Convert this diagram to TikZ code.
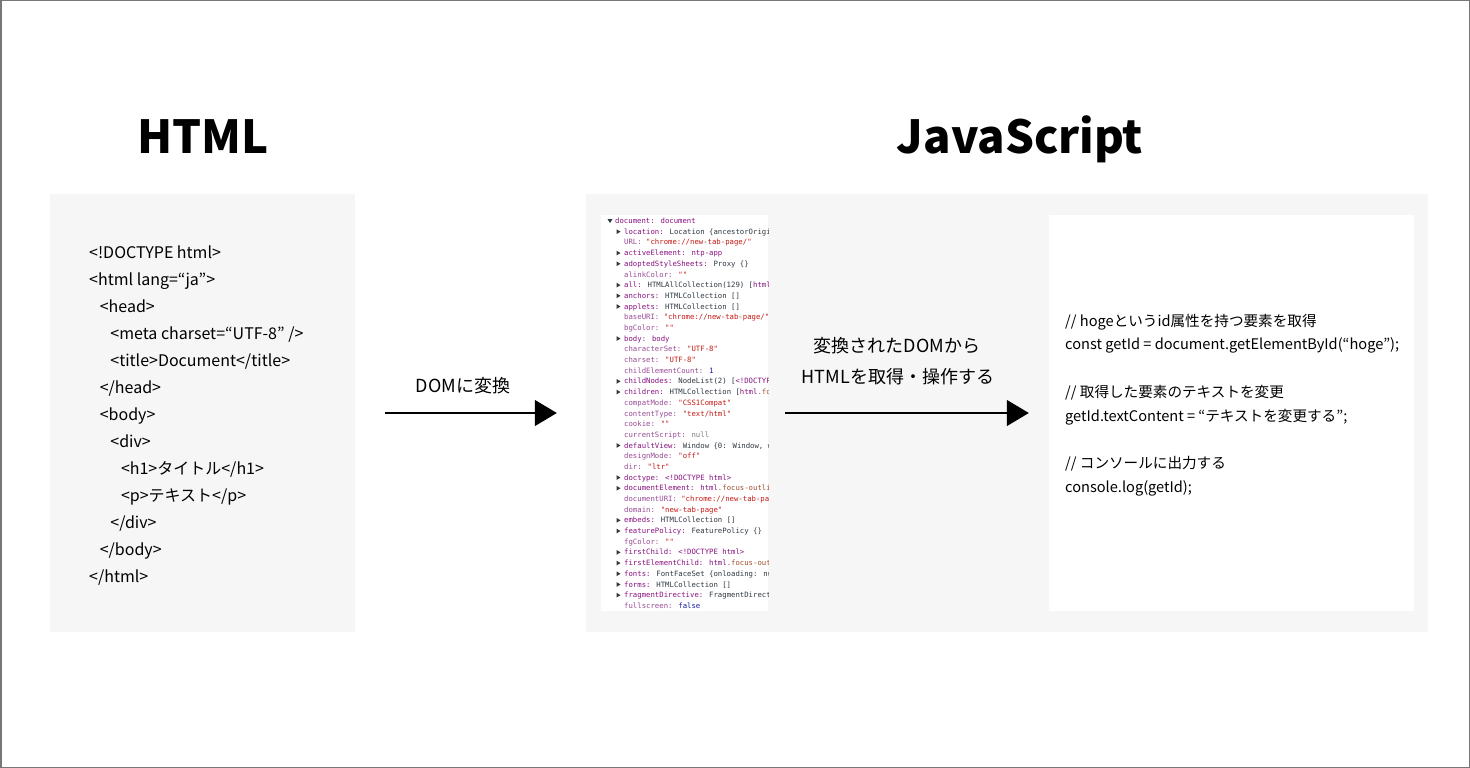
\documentclass[tikz,border=0pt]{standalone}
\usepackage{fontspec}
\setmainfont{Noto Sans CJK JP}
\newfontfamily\domfont{DejaVu Sans Mono}
\usepackage{xcolor}
\usetikzlibrary{arrows.meta}

\definecolor{framegray}{HTML}{777777}
\definecolor{boxgray}{HTML}{F6F6F6}
\definecolor{domkey}{HTML}{881280}
\definecolor{domkeyb}{HTML}{9A4C96}
\definecolor{domstr}{HTML}{C41A16}
\definecolor{domobj}{HTML}{303942}
\definecolor{domnum}{HTML}{1A1AA6}
\definecolor{domtag}{HTML}{881280}
\definecolor{domcls}{HTML}{A0522D}
\definecolor{domnul}{HTML}{808080}

\newcommand{\dmkey}[1]{\textcolor{domkey}{#1}}
\newcommand{\dmkeyb}[1]{\textcolor{domkeyb}{#1}}
\newcommand{\dmstr}[1]{\textcolor{domstr}{#1}}
\newcommand{\dmobj}[1]{\textcolor{domobj}{#1}}
\newcommand{\dmnum}[1]{\textcolor{domnum}{#1}}
\newcommand{\dmtag}[1]{\textcolor{domtag}{#1}}
\newcommand{\dmcls}[1]{\textcolor{domcls}{#1}}
\newcommand{\dmnul}[1]{\textcolor{domnul}{#1}}

\begin{document}
\begin{tikzpicture}[x=1pt, y=-1pt]
    \tikzset{panel/.style={draw=none, inner sep=0}}
    \tikzset{title/.style={anchor=base, inner sep=0, font=\fontsize{45.5}{50}\selectfont\bfseries}}
    \tikzset{htmlcode/.style={anchor=base west, inner sep=0, font=\fontsize{16}{19}\selectfont}}
    \tikzset{jscode/.style={anchor=base west, inner sep=0, font=\fontsize{14.6}{18}\selectfont}}
    \tikzset{flowlabel/.style={anchor=base, inner sep=0, font=\fontsize{18}{22}\selectfont}}
    \tikzset{flow/.style={line width=1.2, -{Triangle[length=22, width=26]}}}
    \tikzset{domline/.style={anchor=base west, inner sep=0, font=\domfont\fontsize{7.3}{9}\selectfont}}
    \useasboundingbox (0,0) rectangle (1470,768);
    \draw[framegray, line width=1.5] (0.75,0.75) rectangle (1469.25,767.25);

    \node[title] (htmltitle) at (203,153) {HTML};
    \node[title] (jstitle) at (1020,153) {JavaScript};

    \node[panel, fill=boxgray, minimum width=305, minimum height=438] (htmlbox) at (202.5,413) {};
    \node[panel, fill=boxgray, minimum width=842, minimum height=438] (jsbox) at (1007,413) {};
    \node[panel, fill=white, minimum width=167, minimum height=396] (dompanel) at (684.5,413) {};
    \node[panel, fill=white, minimum width=365, minimum height=396] (codepanel) at (1231.5,413) {};

    \foreach \lvl/\txt [count=\n] in {0/{<!DOCTYPE html>}, 0/{<html lang=“ja”>}, 1/{<head>},
        2/{<meta charset=“UTF-8” />}, 2/{<title>Document</title>}, 1/{</head>}, 1/{<body>},
        2/{<div>}, 3/{<h1>タイトル</h1>}, 3/{<p>テキスト</p>}, 2/{</div>}, 1/{</body>}, 0/{</html>}} {
        \node[htmlcode] (html\n) at (89+10.6*\lvl, 258+27*\n-27) {\txt};
    }

    \foreach \row/\txt in {0/{// hogeというid属性を持つ要素を取得},
        1/{const getId = document.getElementById(“hoge”);},
        3/{// 取得した要素のテキストを変更},
        4/{getId.textContent = “テキストを変更する”;},
        6/{// コンソールに出力する},
        7/{console.log(getId);}} {
        \node[jscode] (js\row) at (1065, 326+23.8*\row) {\txt};
    }

    \draw[flow] ([xshift=30]htmlbox.east) -- ([xshift=-29]jsbox.west);
    \node[flowlabel] (domlabel) at (463,392.5) {DOMに変換};
    \draw[flow] ([xshift=17]dompanel.east) -- ([xshift=-20]codepanel.west);
    \node[flowlabel] (uselabela) at (897,352.5) {変換されたDOMから};
    \node[flowlabel] (uselabelb) at (898,383.5) {HTMLを取得・操作する};

    \begin{scope}
        \clip (601,215) rectangle (768,611);
        \foreach \arr/\txt [count=\n] in {
            2/{\dmkey{document:} \dmtag{document}},
            1/{\dmkey{location:} \dmobj{Location \{ancestorOrigin}},
            0/{\dmkeyb{URL:} \dmstr{"chrome://new-tab-page/"}},
            1/{\dmkey{activeElement:} \dmtag{ntp-app}},
            1/{\dmkey{adoptedStyleSheets:} \dmobj{Proxy \{\}}},
            0/{\dmkeyb{alinkColor:} \dmstr{""}},
            1/{\dmkey{all:} \dmobj{HTMLAllCollection(129) [}\dmtag{html}},
            1/{\dmkey{anchors:} \dmobj{HTMLCollection []}},
            1/{\dmkey{applets:} \dmobj{HTMLCollection []}},
            0/{\dmkeyb{baseURI:} \dmstr{"chrome://new-tab-page/"}},
            0/{\dmkeyb{bgColor:} \dmstr{""}},
            1/{\dmkey{body:} \dmtag{body}},
            0/{\dmkeyb{characterSet:} \dmstr{"UTF-8"}},
            0/{\dmkeyb{charset:} \dmstr{"UTF-8"}},
            0/{\dmkeyb{childElementCount:} \dmnum{1}},
            1/{\dmkey{childNodes:} \dmobj{NodeList(2) [}\dmtag{<!DOCTYPE}},
            1/{\dmkey{children:} \dmobj{HTMLCollection [}\dmtag{html}\dmcls{.foc}},
            0/{\dmkeyb{compatMode:} \dmstr{"CSS1Compat"}},
            0/{\dmkeyb{contentType:} \dmstr{"text/html"}},
            0/{\dmkeyb{cookie:} \dmstr{""}},
            0/{\dmkeyb{currentScript:} \dmnul{null}},
            1/{\dmkey{defaultView:} \dmobj{Window \{0: Window, wi}},
            0/{\dmkeyb{designMode:} \dmstr{"off"}},
            0/{\dmkeyb{dir:} \dmstr{"ltr"}},
            1/{\dmkey{doctype:} \dmtag{<!DOCTYPE html>}},
            1/{\dmkey{documentElement:} \dmtag{html}\dmcls{.focus-outlin}},
            0/{\dmkeyb{documentURI:} \dmstr{"chrome://new-tab-pag}},
            0/{\dmkeyb{domain:} \dmstr{"new-tab-page"}},
            1/{\dmkey{embeds:} \dmobj{HTMLCollection []}},
            1/{\dmkey{featurePolicy:} \dmobj{FeaturePolicy \{\}}},
            0/{\dmkeyb{fgColor:} \dmstr{""}},
            1/{\dmkey{firstChild:} \dmtag{<!DOCTYPE html>}},
            1/{\dmkey{firstElementChild:} \dmtag{html}\dmcls{.focus-outl}},
            1/{\dmkey{fonts:} \dmobj{FontFaceSet \{onloading: nul}},
            1/{\dmkey{forms:} \dmobj{HTMLCollection []}},
            1/{\dmkey{fragmentDirective:} \dmobj{FragmentDirecti}},
            0/{\dmkeyb{fullscreen:} \dmnum{false}}} {
            \pgfmathsetmacro{\yc}{221+10.69*(\n-1)}
            \ifnum\arr=1
                \fill[domobj] (616.5,\yc-2.4) -- (620.5,\yc) -- (616.5,\yc+2.4) -- cycle;
                \node[domline] (dom\n) at (624,\yc+2.6) {\txt};
            \else\ifnum\arr=2
                \fill[domobj] (607.5,\yc-2) -- (612.5,\yc-2) -- (610,\yc+2) -- cycle;
                \node[domline] (dom\n) at (615,\yc+2.6) {\txt};
            \else
                \node[domline] (dom\n) at (624,\yc+2.6) {\txt};
            \fi\fi
        }
    \end{scope}
\end{tikzpicture}
\end{document}
